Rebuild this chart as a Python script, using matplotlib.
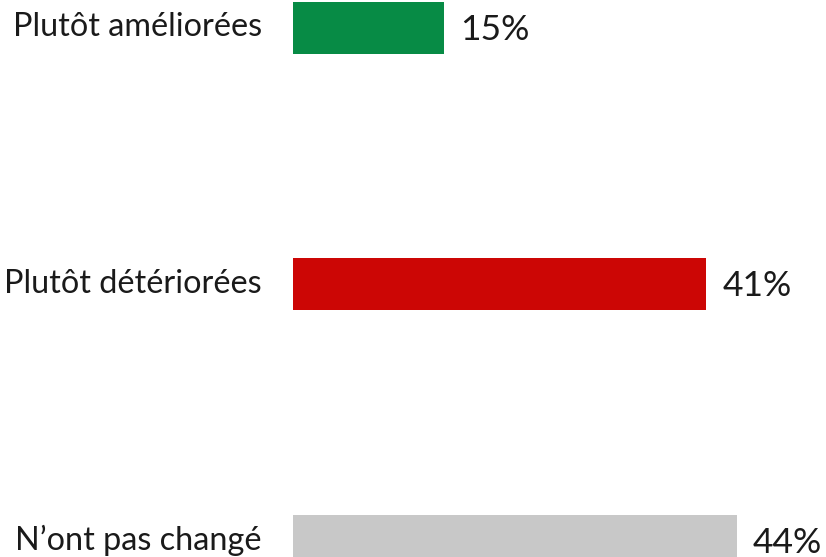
import matplotlib
matplotlib.use("Agg")
import matplotlib.pyplot as plt

# data
categories = ["Plutôt améliorées", "Plutôt détériorées", "N\u2019ont pas changé"]
values = [15, 41, 44]
colors = ["#078B45", "#CC0605", "#C8C8C8"]

plt.rcParams['font.family'] = ['Lato', 'DejaVu Sans']

fig = plt.figure(figsize=(8.26, 5.57), dpi=100)
W, H = 826, 557
ax = fig.add_axes([293 / W, 0, 1 - 293 / W, 1])

px_per_unit = 10.08
ax.set_xlim(0, (W - 293) / px_per_unit)
spacing = 256.5
ax.set_ylim(2 + (H - 540.5) / spacing, -27.5 / spacing)

ys = range(len(values))
ax.barh(ys, values, height=52 / spacing, color=colors)

for y, v, lab in zip(ys, values, categories):
    ax.text(v + 1.6, y + 0.008, f"{v}%", ha="left", va="center",
            fontsize=25.5, color="#1a1a1a", clip_on=False)
    ax.text(-3.1, y, lab, ha="right", va="center", fontsize=23.3,
            color="#1a1a1a", clip_on=False)

ax.axis("off")
fig.savefig("out.png", dpi=100)
